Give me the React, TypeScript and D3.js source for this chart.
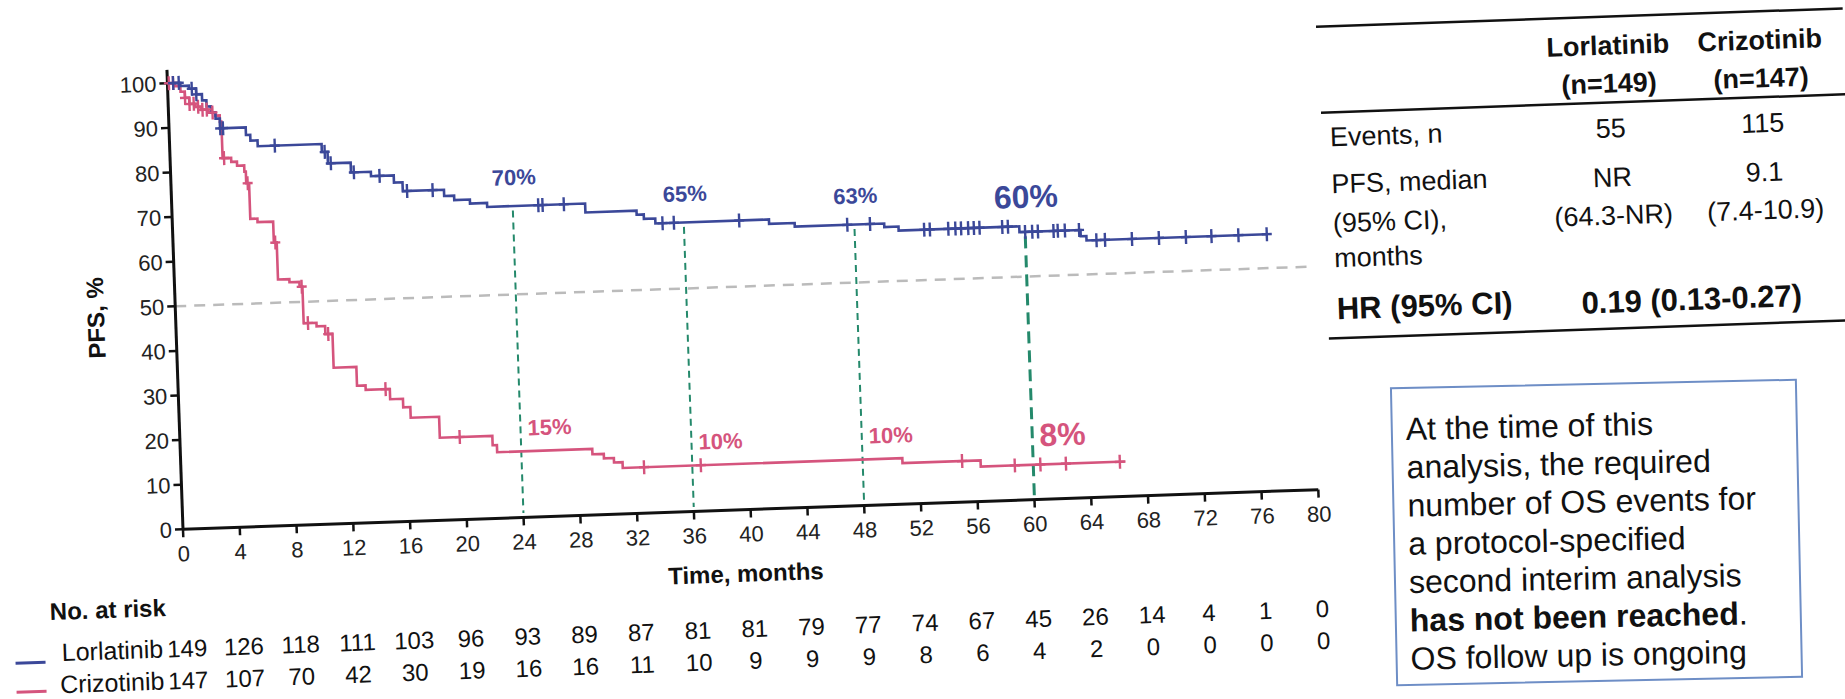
import React from 'react';
import * as d3 from 'd3';

// ---- data ----
const xTicks = [0, 4, 8, 12, 16, 20, 24, 28, 32, 36, 40, 44, 48, 52, 56, 60, 64, 68, 72, 76, 80];
const yTicks = [0, 10, 20, 30, 40, 50, 60, 70, 80, 90, 100];

// [month, PFS % after the step]
const lorSteps: [number, number][] = [
  [0, 100], [0.9, 99.3], [1.5, 98.6], [2.0, 97.3], [2.4, 95.9], [2.7, 94.5], [3.0, 93.1],
  [3.3, 91.7], [3.6, 89.5], [5.4, 87.8], [5.7, 86.5], [6.2, 85.2], [10.7, 83.4], [11.1, 80.8],
  [12.7, 78.6], [14.1, 77.6], [15.7, 76.0], [16.3, 74.0], [19.2, 72.6], [19.9, 71.6],
  [21.0, 70.7], [22.2, 69.8], [29.1, 67.8], [32.7, 66.9], [33.2, 65.9], [34.0, 64.8],
  [42.0, 63.8], [43.8, 63.0], [50.1, 62.2], [51.1, 61.3], [59.6, 60.0], [63.9, 58.6], [64.3, 57.6],
];
const lorEnd = 77.0;
const lorCensor = [
  0.4, 0.8, 1.7, 2.0, 3.6, 3.8, 7.4, 10.9, 11.3, 12.9, 14.7, 16.6, 18.4, 25.8, 26.1, 27.6,
  34.5, 35.3, 39.9, 47.5, 49.1, 52.9, 53.3, 54.6, 55.1, 55.5, 56.0, 56.4, 56.8, 58.4, 58.8,
  60.0, 60.5, 60.9, 62.0, 62.3, 62.8, 63.8, 65.0, 65.6, 67.5, 69.4, 71.3, 73.1, 75.0, 77.0,
];

const crzSteps: [number, number][] = [
  [0, 100], [0.5, 99.3], [0.9, 98.0], [1.2, 96.6], [1.5, 95.2], [1.9, 94.5], [2.3, 93.8],
  [2.8, 93.1], [3.3, 92.4], [3.6, 91.0], [3.7, 82.8], [4.3, 81.9], [4.7, 81.0], [5.2, 79.6],
  [5.3, 77.0], [5.5, 69.0], [6.0, 68.2], [7.1, 63.5], [7.3, 55.2], [8.1, 54.5], [8.8, 53.4],
  [9.0, 45.2], [9.9, 44.4], [10.5, 42.6], [11.0, 35.0], [12.6, 30.8], [13.2, 29.8],
  [14.9, 27.5], [15.8, 25.6], [16.3, 23.2], [18.3, 18.5], [22.0, 16.4], [22.3, 14.8],
  [29.0, 13.6], [29.8, 12.6], [30.5, 11.6], [31.1, 10.3], [50.8, 9.2], [56.3, 7.8],
];
const crzEnd = 66.5;
const crzCensor = [
  0.1, 0.4, 1.2, 1.5, 1.8, 2.1, 2.4, 2.7, 3.1, 3.8, 5.4, 7.2, 8.95, 9.3, 10.7, 14.6, 19.7,
  32.6, 36.6, 55.0, 58.7, 60.5, 62.3, 66.1,
];

const landmarkMonths = [24, 36, 48, 60];
const lorLandmarkLabels = ['70%', '65%', '63%', '60%'];
const crzLandmarkLabels = ['15%', '10%', '10%', '8%'];

const riskLor = [149, 126, 118, 111, 103, 96, 93, 89, 87, 81, 81, 79, 77, 74, 67, 45, 26, 14, 4, 1, 0];
const riskCrz = [147, 107, 70, 42, 30, 19, 16, 16, 11, 10, 9, 9, 9, 8, 6, 4, 2, 0, 0, 0, 0];

const tableHead = [['Lorlatinib', '(n=149)'], ['Crizotinib', '(n=147)']];
const tableEvents = ['55', '115'];
const tableMedian = ['NR', '9.1'];
const tableCI = ['(64.3-NR)', '(7.4-10.9)'];
const hrText = '0.19 (0.13-0.27)';

const noteLines = [
  'At the time of this',
  'analysis, the required',
  'number of OS events for',
  'a protocol-specified',
  'second interim analysis',
];

const BLUE = '#3b4899';
const PINK = '#d5547d';
const GREEN = '#24896b';
const GRAY = '#bbbbbb';
const FONT = '"Liberation Sans", Arial, Helvetica, sans-serif';

function valueAt(steps: [number, number][], t: number) {
  const i = d3.bisector((d: [number, number]) => d[0]).right(steps, t) - 1;
  return steps[Math.max(0, i)][1];
}

export default function App() {
  const x = d3.scaleLinear().domain([0, 80]).range([0, 1136]);
  const y = d3.scaleLinear().domain([0, 100]).range([0, -446.3]);

  const line = d3
    .line<[number, number]>()
    .x((d) => x(d[0]))
    .y((d) => y(d[1]))
    .curve(d3.curveStepAfter);

  const lorPath = line([...lorSteps, [lorEnd, lorSteps[lorSteps.length - 1][1]]]) || '';
  const crzPath = line([...crzSteps, [crzEnd, crzSteps[crzSteps.length - 1][1]]]) || '';

  const censorMark = (t: number, steps: [number, number][], color: string, key: string) => {
    const cx = x(t);
    const cy = y(valueAt(steps, t));
    return (
      <g key={key} stroke={color} strokeWidth={2.4}>
        <line x1={cx} x2={cx} y1={cy - 7} y2={cy + 7} />
        <line x1={cx - 5} x2={cx + 5} y1={cy} y2={cy} />
      </g>
    );
  };

  return (
    <svg
      width={1845}
      height={699}
      style={{ position: 'absolute', left: 0, top: 0, background: '#fff' }}
      fontFamily={FONT}
    >
      <rect width={1845} height={699} fill="#fff" />

      {/* chart, photographed slightly rotated */}
      <g transform="translate(183,529.3) rotate(-2)">
        {/* 50% reference */}
        <line x1={x(0)} x2={x(80)} y1={y(50)} y2={y(50)} stroke={GRAY} strokeWidth={2.5} strokeDasharray="11 8" />

        {/* landmark lines */}
        {landmarkMonths.map((m, i) => (
          <line
            key={'lm' + m}
            x1={x(m)}
            x2={x(m)}
            y1={y(valueAt(lorSteps, m) - 1)}
            y2={y(i === 3 ? 0 : 1)}
            stroke={GREEN}
            strokeWidth={i === 3 ? 3 : 2}
            strokeDasharray={i === 3 ? '12 7' : '7 5'}
          />
        ))}

        {/* axes */}
        <line x1={0} x2={0} y1={0} y2={y(103)} stroke="#111" strokeWidth={3} />
        <line x1={0} x2={x(80)} y1={0} y2={0} stroke="#111" strokeWidth={3} />
        {yTicks.map((t) => (
          <g key={'yt' + t}>
            <line x1={-8} x2={0} y1={y(t)} y2={y(t)} stroke="#111" strokeWidth={2.5} />
            <text x={-11} y={y(t)} dy="0.36em" textAnchor="end" fontSize={22} fill="#222">
              {t}
            </text>
          </g>
        ))}
        {xTicks.map((t) => (
          <g key={'xt' + t}>
            <line x1={x(t)} x2={x(t)} y1={0} y2={8} stroke="#111" strokeWidth={2.5} />
            <text x={x(t)} y={32} textAnchor="middle" fontSize={22} fill="#222">
              {t}
            </text>
          </g>
        ))}
        <text
          transform={`translate(-80,${y(48)}) rotate(-90)`}
          textAnchor="middle"
          dy="0.36em"
          fontSize={24}
          fontWeight="bold"
          fill="#111"
        >
          PFS, %
        </text>
        <text x={561} y={72} textAnchor="middle" fontSize={24} fontWeight="bold" fill="#111">
          Time, months
        </text>

        {/* curves */}
        <path d={crzPath} fill="none" stroke={PINK} strokeWidth={2.6} />
        <path d={lorPath} fill="none" stroke={BLUE} strokeWidth={2.6} />
        {crzCensor.map((t, i) => censorMark(t, crzSteps, PINK, 'cc' + i))}
        {lorCensor.map((t, i) => censorMark(t, lorSteps, BLUE, 'lc' + i))}

        {/* landmark labels */}
        {landmarkMonths.map((m, i) => {
          const big = i === 3;
          return (
            <g key={'lab' + m} fontWeight="bold">
              <text
                x={x(m) + 2}
                y={y(valueAt(lorSteps, m) + (big ? 8 : 6.5))}
                dy="0.36em"
                textAnchor="middle"
                fontSize={big ? 32 : 22}
                fill={BLUE}
              >
                {lorLandmarkLabels[i]}
              </text>
              <text
                x={x(m + 0.5)}
                y={y(valueAt(crzSteps, m) + (big ? 6.7 : 5.3))}
                dy="0.36em"
                textAnchor="start"
                fontSize={big ? 32 : 22}
                fill={PINK}
              >
                {crzLandmarkLabels[i]}
              </text>
            </g>
          );
        })}

        {/* number at risk */}
        <text x={-136} y={86} fontSize={24} fontWeight="bold" fill="#111">
          No. at risk
        </text>
        <line x1={-172} x2={-142} y1={128} y2={128} stroke={BLUE} strokeWidth={3} />
        <line x1={-172} x2={-142} y1={157} y2={157} stroke={PINK} strokeWidth={3} />
        <text x={-24} y={127.5} textAnchor="end" fontSize={25} fill="#111">
          Lorlatinib
        </text>
        <text x={-24} y={159.5} textAnchor="end" fontSize={25} fill="#111">
          Crizotinib
        </text>
        {xTicks.map((t, i) => (
          <g key={'risk' + t} fontSize={24} fill="#111" textAnchor="middle">
            <text x={x(t)} y={127.5}>{riskLor[i]}</text>
            <text x={x(t)} y={159.5}>{riskCrz[i]}</text>
          </g>
        ))}
      </g>

      {/* summary table */}
      <g transform="translate(1318,26.7) rotate(-2)" fill="#111">
        <line x1={-2} x2={525} y1={0} y2={0} stroke="#111" strokeWidth={2.5} />
        <line x1={0} x2={525} y1={86} y2={86} stroke="#111" strokeWidth={2.5} />
        <line x1={0} x2={525} y1={312} y2={312} stroke="#111" strokeWidth={2.5} />
        {tableHead.map((h, i) => (
          <g key={'th' + i} fontWeight="bold" fontSize={27} textAnchor="middle">
            <text x={i === 0 ? 289 : 441} y={38}>{h[0]}</text>
            <text x={i === 0 ? 289 : 441} y={76}>{h[1]}</text>
          </g>
        ))}
        <g fontSize={27}>
          <text x={8} y={120}>Events, n</text>
          <text x={8} y={167}>PFS, median</text>
          <text x={8} y={206}>(95% CI),</text>
          <text x={8} y={241}>months</text>
          {tableEvents.map((v, i) => (
            <text key={'ev' + i} x={i === 0 ? 289 : 441} y={121} textAnchor="middle">{v}</text>
          ))}
          {tableMedian.map((v, i) => (
            <text key={'md' + i} x={i === 0 ? 289 : 441} y={170} textAnchor="middle">{v}</text>
          ))}
          {tableCI.map((v, i) => (
            <text key={'ci' + i} x={i === 0 ? 289 : 441} y={208} textAnchor="middle">{v}</text>
          ))}
        </g>
        <g fontWeight="bold" fontSize={31}>
          <text x={9} y={293}>HR (95% CI)</text>
          <text x={364} y={296} textAnchor="middle">{hrText}</text>
        </g>
      </g>

      {/* OS note */}
      <g transform="rotate(-1.2 1596 532)">
        <rect x={1394} y={384} width={405} height={297} fill="#fff" stroke="#6e8ec6" strokeWidth={2} />
        <g fontSize={32} fill="#111">
          {noteLines.map((s, i) => (
            <text key={'nl' + i} x={1408} y={436 + i * 38.3}>{s}</text>
          ))}
          <text x={1408} y={436 + 5 * 38.3}>
            <tspan fontWeight="bold">has not been reached</tspan>.
          </text>
          <text x={1408} y={436 + 6 * 38.3}>OS follow up is ongoing</text>
        </g>
      </g>
    </svg>
  );
}
